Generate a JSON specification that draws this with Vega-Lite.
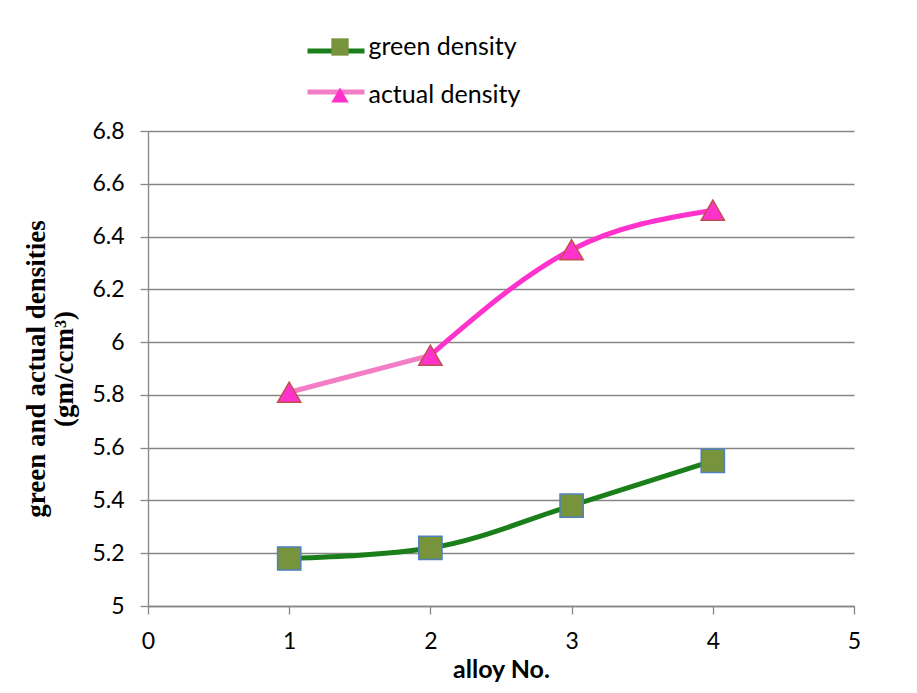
{
  "$schema": "https://vega.github.io/schema/vega-lite/v6.json",
  "width": 706,
  "height": 475,
  "autosize": {"type": "none"},
  "padding": {"left": 148, "top": 131, "right": 63, "bottom": 87},
  "background": "white",
  "config": {"view": {"stroke": null}, "font": "Lato"},
  "datasets": {
    "points": [
      {"alloy": 1, "density": 5.18, "series": "green density"},
      {"alloy": 2, "density": 5.22, "series": "green density"},
      {"alloy": 3, "density": 5.38, "series": "green density"},
      {"alloy": 4, "density": 5.55, "series": "green density"},
      {"alloy": 1, "density": 5.81, "series": "actual density"},
      {"alloy": 2, "density": 5.95, "series": "actual density"},
      {"alloy": 3, "density": 6.35, "series": "actual density"},
      {"alloy": 4, "density": 6.5, "series": "actual density"}
    ],
    "lines": [
      {"alloy": 1, "density": 5.18, "seg": "green density"},
      {"alloy": 2, "density": 5.22, "seg": "green density"},
      {"alloy": 3, "density": 5.38, "seg": "green density"},
      {"alloy": 4, "density": 5.55, "seg": "green density"},
      {"alloy": 1, "density": 5.81, "seg": "actual density"},
      {"alloy": 2, "density": 5.95, "seg": "actual density"},
      {"alloy": 2, "density": 5.95, "seg": "actual density (b)"},
      {"alloy": 3, "density": 6.35, "seg": "actual density (b)"},
      {"alloy": 4, "density": 6.5, "seg": "actual density (b)"}
    ]
  },
  "encoding": {
    "x": {
      "field": "alloy",
      "type": "quantitative",
      "scale": {"domain": [0, 5], "nice": false, "zero": false},
      "axis": {
        "values": [0, 1, 2, 3, 4, 5],
        "grid": false,
        "domainColor": "#868686",
        "domainWidth": 1.3,
        "tickColor": "#868686",
        "tickWidth": 1.3,
        "tickSize": 8,
        "labelFont": "Lato",
        "labelFontSize": 23,
        "labelColor": "black",
        "labelPadding": 16,
        "labelFlush": false,
        "format": "~g",
        "title": "alloy No.",
        "titleFont": "Lato",
        "titleFontSize": 25,
        "titleFontWeight": "bold",
        "titleColor": "black",
        "titlePadding": 4
      }
    },
    "y": {
      "field": "density",
      "type": "quantitative",
      "scale": {"domain": [5, 6.8], "nice": false, "zero": false},
      "axis": {
        "values": [5, 5.2, 5.4, 5.6, 5.8, 6, 6.2, 6.4, 6.6, 6.8],
        "grid": true,
        "gridColor": "#868686",
        "gridWidth": 1.3,
        "domainColor": "#868686",
        "domainWidth": 1.3,
        "tickColor": "#868686",
        "tickWidth": 1.3,
        "tickSize": 8,
        "labelFont": "Lato",
        "labelFontSize": 23,
        "labelColor": "black",
        "labelPadding": 16,
        "labelFlush": false,
        "format": "~g",
        "title": ["green and actual densities", "(gm/ccm³)"],
        "titleFont": "Liberation Serif",
        "titleFontSize": 27,
        "titleFontWeight": "bold",
        "titleColor": "black",
        "titleLineHeight": 28,
        "titlePadding": 13
      }
    }
  },
  "layer": [
    {
      "data": {"name": "lines"},
      "mark": {"type": "line", "interpolate": "monotone", "strokeWidth": 5, "strokeCap": "round"},
      "encoding": {
        "stroke": {
          "field": "seg",
          "type": "nominal",
          "scale": {
            "domain": ["green density", "actual density", "actual density (b)"],
            "range": ["#1a7f1a", "#f27fc6", "#ff33cc"]
          },
          "legend": {
            "values": ["green density", "actual density"],
            "orient": "none",
            "legendX": 157,
            "legendY": -111,
            "symbolType": "stroke",
            "symbolSize": 3249,
            "symbolStrokeWidth": 5,
            "labelExpr": "''",
            "labelFontSize": 20,
            "title": null,
            "rowPadding": -9,
            "padding": 0,
            "zindex": 0
          }
        }
      }
    },
    {
      "data": {"name": "points"},
      "mark": {"type": "point", "filled": true, "size": 540, "strokeWidth": 1.5, "opacity": 1},
      "encoding": {
        "fill": {
          "field": "series",
          "type": "nominal",
          "scale": {"domain": ["green density", "actual density"], "range": ["#77933c", "#ff33cc"]},
          "legend": {
            "orient": "none",
            "legendX": 179.5,
            "legendY": -96.5,
            "symbolSize": 300,
            "symbolStrokeWidth": 1.5,
            "labelOffset": 16,
            "labelFont": "Lato",
            "labelFontSize": 25,
            "labelColor": "black",
            "rowPadding": 22,
            "title": null,
            "padding": 0,
            "zindex": 1,
            "encode": {
              "symbols": {
                "update": {
                  "stroke": {"signal": "datum.value === 'green density' ? '#4f81bd' : '#c0504d'"},
                  "strokeWidth": {"value": 1.5}
                }
              }
            }
          }
        },
        "shape": {
          "field": "series",
          "type": "nominal",
          "scale": {"domain": ["green density", "actual density"], "range": ["square", "triangle-up"]}
        },
        "stroke": {
          "field": "series",
          "type": "nominal",
          "scale": {"domain": ["green density", "actual density"], "range": ["#4f81bd", "#c0504d"]},
          "legend": null
        }
      }
    }
  ],
  "resolve": {"scale": {"stroke": "independent"}}
}
